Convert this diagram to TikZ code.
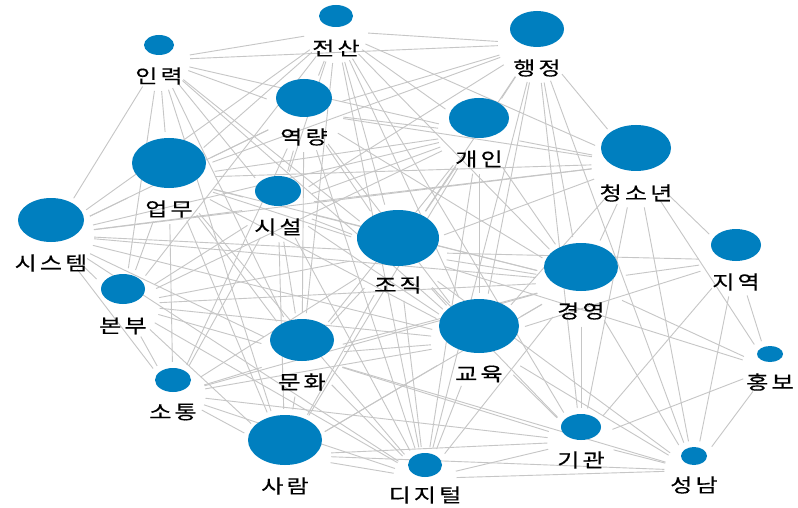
\documentclass[tikz,border=0pt]{standalone}
\usepackage{fontspec}
\newfontfamily\kr[FakeStretch=1.27,LetterSpace=16,FakeBold=0.4]{Noto Sans CJK KR}
\usetikzlibrary{shapes.geometric,backgrounds}
\definecolor{bubblue}{RGB}{0,127,191}
\definecolor{edgegray}{RGB}{198,198,198}
\tikzset{
  zone/.style={circle,inner sep=0pt,draw=none},
  bub/.style={ellipse,inner sep=0pt,fill=bubblue,draw=none},
  lab/.style={inner sep=0pt,text=black,font=\kr\fontsize{19}{21}\selectfont},
  edgeline/.style={draw=edgegray,line width=0.9pt}
}
\newcommand\mkword[7]{%
  \pgfmathsetmacro\mkZt{#3-#5}%
  \pgfmathsetmacro\mkZb{#6+9}%
  \pgfmathsetmacro\mkZc{(\mkZt+\mkZb)/2}%
  \pgfmathsetmacro\mkZr{max(#4+8,(\mkZb-\mkZt)/2+6)}%
  \node[zone,minimum size=2*\mkZr] (#1) at (#2,\mkZc) {};
  \node[bub,minimum width=2*#4,minimum height=2*#5] (#1b) at (#2,#3) {};
  \node[lab] (#1t) at (#2,#6) {#7};
}
\begin{document}
\begin{tikzpicture}[x=1pt,y=-1pt]
\useasboundingbox (0,0) rectangle (798,508);
\mkword{JS}{336}{16}{17}{11}{48}{전산}
\mkword{IR}{159}{45}{15}{10}{76}{인력}
\mkword{HJ}{537}{29}{27}{18}{68}{행정}
\mkword{YR}{304}{98}{28}{19}{137}{역량}
\mkword{GI}{479}{118}{30}{20}{159}{개인}
\mkword{CS}{636}{148}{35}{23}{193}{청소년}
\mkword{UM}{169}{163}{37}{25}{209}{업무}
\mkword{SS}{278}{191}{23}{15}{227}{시설}
\mkword{SY}{51}{220}{33}{22}{263}{시스템}
\mkword{JJ}{398}{238}{41}{28}{285}{조직}
\mkword{GY}{581}{267}{37}{24}{311}{경영}
\mkword{JY}{736}{245}{25}{16}{282}{지역}
\mkword{BB}{123}{289}{22}{15}{326}{본부}
\mkword{MH}{302}{340}{32}{21}{382}{문화}
\mkword{GE}{479}{326}{40}{27}{374}{교육}
\mkword{HB}{770}{354}{13}{8}{382}{홍보}
\mkword{ST}{173}{380}{18}{12}{412}{소통}
\mkword{GG}{581}{427}{20}{13}{460}{기관}
\mkword{SR}{285}{440}{37}{25}{486}{사람}
\mkword{DT}{425}{465}{17}{12}{495}{디지털}
\mkword{SN}{694}{456}{13}{9}{485}{성남}
\begin{scope}[on background layer]
\fill[white] (0,0) rectangle (798,508);
\foreach \a/\b in {
JS/IR,JS/HJ,JS/YR,JS/GI,JS/CS,JS/UM,JS/SS,JS/JJ,JS/GY,JS/MH,JS/GE,JS/DT,JS/GG,JS/BB,JS/SY,
IR/HJ,IR/GI,IR/SS,IR/UM,IR/BB,IR/SY,IR/SR,IR/JJ,IR/YR,IR/MH,IR/GE,
HJ/YR,HJ/GI,HJ/CS,HJ/UM,HJ/JJ,HJ/GY,HJ/GG,HJ/SN,HJ/GE,HJ/SS,HJ/DT,
YR/GI,YR/UM,YR/SS,YR/JJ,YR/CS,YR/GY,YR/MH,YR/GE,YR/DT,YR/SY,YR/ST,
GI/CS,GI/UM,GI/SS,GI/JJ,GI/GY,GI/GE,GI/MH,GI/DT,GI/SY,GI/BB,GI/SR,
CS/JJ,CS/GY,CS/JY,CS/HB,CS/SN,CS/GG,CS/GE,CS/UM,CS/SS,CS/SY,
UM/SS,UM/SY,UM/JJ,UM/BB,UM/MH,UM/GE,UM/ST,UM/SR,UM/DT,UM/GY,
SS/SY,SS/JJ,SS/MH,SS/GE,SS/ST,SS/SR,SS/DT,SS/GY,SS/BB,
SY/JJ,SY/BB,SY/MH,SY/GE,SY/ST,SY/GY,SY/DT,
JJ/GY,JJ/JY,JJ/BB,JJ/MH,JJ/GE,JJ/ST,JJ/GG,JJ/SR,JJ/DT,JJ/SN,JJ/HB,
GY/JY,GY/HB,GY/GE,GY/GG,GY/SN,GY/MH,GY/DT,GY/SR,GY/BB,GY/ST,
JY/HB,JY/SN,JY/GG,JY/GE,
BB/MH,BB/ST,BB/SR,BB/GE,BB/DT,
MH/GE,MH/ST,MH/SR,MH/DT,MH/GG,MH/SN,
GE/GG,GE/SR,GE/DT,GE/SN,GE/ST,
HB/SN,HB/GG,
ST/SR,ST/DT,ST/GG,
GG/SR,GG/DT,GG/SN,
SR/DT,SR/SN,
DT/SN}
  \draw[edgeline] (\a) -- (\b);
\end{scope}
\end{tikzpicture}
\end{document}
